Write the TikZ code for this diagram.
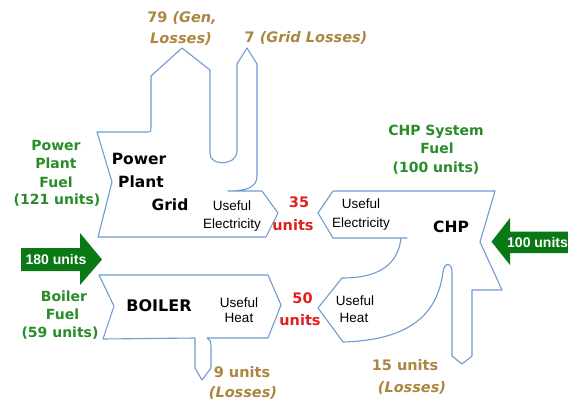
\documentclass[tikz,border=0pt]{standalone}
\usepackage{fontspec}
\setmainfont{DejaVu Sans}
\newfontfamily\lib{Liberation Sans}
\definecolor{olb}{RGB}{110,155,210}
\definecolor{gtxt}{RGB}{40,140,40}
\definecolor{garr}{RGB}{10,120,20}
\definecolor{brn}{RGB}{170,135,65}
\definecolor{rd}{RGB}{225,30,30}
\begin{document}
\begin{tikzpicture}[x=1pt,y=-1pt,
  outl/.style={draw=olb, line width=1.1pt, line join=round},
  garrow/.style={fill=garr, draw=none},
  txt/.style={inner sep=0pt, anchor=base},
  gl/.style={txt, text=gtxt, font=\fontsize{14}{16}\selectfont\bfseries},
  bl/.style={txt, font=\fontsize{15.5}{17}\selectfont\bfseries},
  ul/.style={txt, font=\lib\fontsize{13.5}{15}\selectfont},
  rl/.style={txt, text=rd, font=\fontsize{14.5}{16}\selectfont\bfseries},
  ll/.style={txt, text=brn, font=\fontsize{14.5}{16}\selectfont\bfseries},
  wl/.style={txt, text=white, font=\lib\fontsize{14}{16}\selectfont\bfseries},
]
\useasboundingbox (0,0) rectangle (568,405);

% Power plant outline
\draw[outl] (97,132) -- (146,132) .. controls (151,132) .. (151,126) -- (151,76) -- (182,48) -- (210,70)
  -- (210,154) .. controls (210,166) and (236,166) .. (237,152) -- (237,64) -- (247,48) -- (257,64)
  -- (257,176) .. controls (257,188) and (245,191) .. (228,191) -- (262,191) -- (278,213) -- (266,237)
  -- (98,237) -- (112,182) -- cycle;

% Boiler outline
\draw[outl] (99,275) -- (268,275) -- (281,305) -- (268,338) -- (207,338)
  .. controls (210,339) and (211,342) .. (211,346) -- (211,368) -- (202,380) -- (195,368) -- (195,338)
  -- (103,339) -- (114,306) -- cycle;

% CHP outline
\draw[outl] (333,191) -- (495,191) -- (480,242) -- (502,290) -- (472,290) -- (472,356) -- (462,364)
  -- (452,356) -- (452,272) .. controls (452,262) and (444,262) .. (443,272)
  .. controls (438,310) and (415,340) .. (343,342) -- (318,308) -- (342,278)
  .. controls (380,278) and (398,264) .. (401,238) -- (407,238) -- (333,238) -- (318,213) -- cycle;

% green input arrows
\fill[garrow] (21,248) -- (80,248) -- (80,233) -- (102,259.5) -- (80,285) -- (80,271) -- (21,271) -- cycle;
\fill[garrow] (568,231.5) -- (510,231.5) -- (510,218) -- (491.5,241.7) -- (510,265) -- (510,253) -- (568,253) -- cycle;
\node[wl] (in180) at (56,264) {180 units};
\node[wl, anchor=base west] (in100) at (507,247) {100 units};

% loss labels
\node[ll] (gen1) at (182,22) {79 \textit{(Gen,}};
\node[ll] (gen2) at (181,43) {\textit{Losses)}};
\node[ll] (gridl) at (306,42) {7 \textit{(Grid Losses)}};
\node[ll] (bl1) at (242,377) {9 units};
\node[ll] (bl2) at (243,397) {\textit{(Losses)}};
\node[ll] (cl1) at (405,370) {15 units};
\node[ll] (cl2) at (412,392) {\textit{(Losses)}};

% green fuel labels
\node[gl] (ppf1) at (56,150) {Power};
\node[gl] (ppf2) at (56,168) {Plant};
\node[gl] (ppf3) at (56,187) {Fuel};
\node[gl] (ppf4) at (57,204) {(121 units)};
\node[gl] (cf1) at (436,135) {CHP System};
\node[gl] (cf2) at (437,153) {Fuel};
\node[gl] (cf3) at (436,172) {(100 units)};
\node[gl] (bf1) at (64,301) {Boiler};
\node[gl] (bf2) at (62.5,319) {Fuel};
\node[gl] (bf3) at (60,337) {(59 units)};

% black labels
\node[bl] (pp1) at (139,164) {Power};
\node[bl] (pp2) at (141,187) {Plant};
\node[bl] (grid) at (170,210) {Grid};
\node[bl] (chp) at (451,232) {CHP};
\node[bl, font=\fontsize{16}{18}\selectfont\bfseries] (boiler) at (159,311) {BOILER};

% useful labels
\node[ul] (ue1) at (232,210) {Useful};
\node[ul] (ue2) at (232,228) {Electricity};
\node[ul] (ce1) at (361,208) {Useful};
\node[ul] (ce2) at (361,227) {Electricity};
\node[ul] (uh1) at (239,307) {Useful};
\node[ul] (uh2) at (239,322) {Heat};
\node[ul] (ch1) at (355,305) {Useful};
\node[ul] (ch2) at (354,322) {Heat};

% red values
\node[rl] (v35a) at (299,207) {35};
\node[rl] (v35b) at (293,230) {units};
\node[rl] (v50a) at (302.5,303) {50};
\node[rl] (v50b) at (300,325) {units};
\end{tikzpicture}
\end{document}
